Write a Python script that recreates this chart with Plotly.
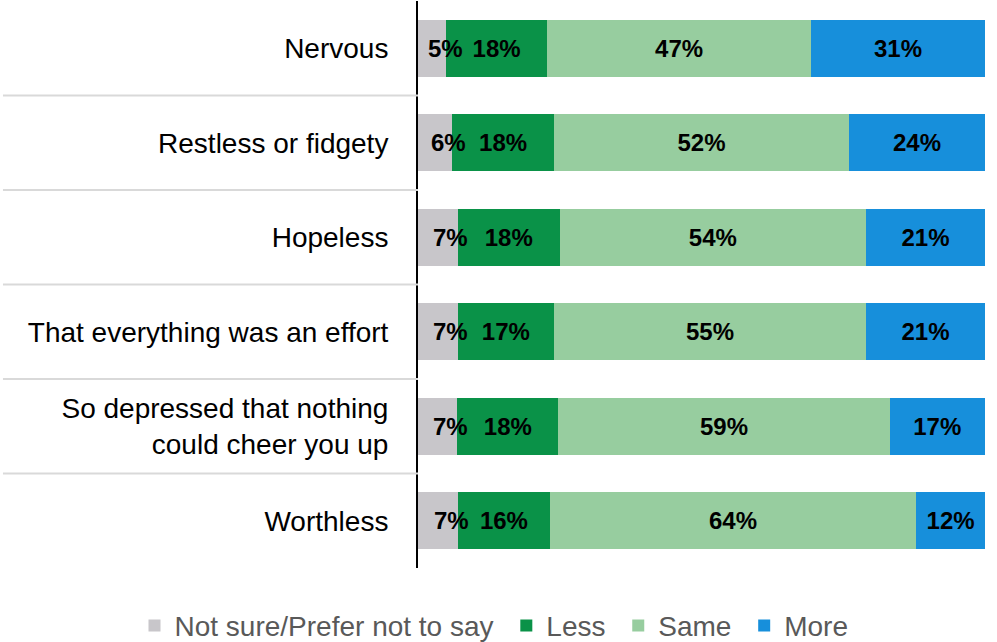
import plotly.graph_objects as go

# Survey items (top to bottom)
categories = [
    "Nervous",
    "Restless or fidgety",
    "Hopeless",
    "That everything was an effort",
    "So depressed that nothing<br>could cheer you up",
    "Worthless",
]

# Share of respondents per answer (%)
not_sure = [5, 6, 7, 7, 7, 7]
less = [18, 18, 18, 17, 18, 16]
same = [47, 52, 54, 55, 59, 64]
more = [31, 24, 21, 21, 17, 12]

series = [
    ("Not sure/Prefer not to say", not_sure, "#c8c6ca"),
    ("Less", less, "#0a9248"),
    ("Same", same, "#97cd9f"),
    ("More", more, "#178fdb"),
]

FONT = "Liberation Sans, Arial, sans-serif"
GAP = "\u00a0"  # extra breathing room after each legend entry

fig = go.Figure()
for k, (name, vals, color) in enumerate(series):
    show_text = k > 0
    fig.add_trace(go.Bar(
        name=name + (GAP if k < len(series) - 1 else ""),
        y=categories,
        x=vals,
        orientation="h",
        marker=dict(color=color, line=dict(width=0)),
        text=[f"{v}%" for v in vals] if show_text else None,
        textposition="inside" if show_text else "none",
        insidetextanchor="middle",
        textangle=0,
        textfont=dict(family=FONT, size=24, color="black", weight="bold"),
        hoverinfo="skip",
    ))

# Labels for the narrow first segment sit above the neighbouring bars
annotations = []
for idx, cat in enumerate(categories):
    total = not_sure[idx] + less[idx] + same[idx] + more[idx]
    mid = not_sure[idx] / 2 * 100 / total
    annotations.append(dict(
        x=mid, y=cat, xref="x", yref="y", text=f"<b>{not_sure[idx]}%</b>",
        showarrow=False, xanchor="center", yanchor="middle", xshift=13,
        font=dict(family=FONT, size=24, color="black"),
    ))

# Light dividers between the category rows, to the left of the axis
shapes = []
for i in range(len(categories) - 1):
    shapes.append(dict(
        type="line", xref="paper", yref="y",
        x0=-0.732, x1=0, y0=i + 0.5, y1=i + 0.5,
        line=dict(color="#d9d9d9", width=2),
    ))

fig.update_layout(
    barmode="stack",
    barnorm="percent",
    bargap=0.4,
    width=997,
    height=642,
    margin=dict(l=418, r=12, t=1, b=74, autoexpand=False),
    paper_bgcolor="white",
    plot_bgcolor="white",
    font=dict(family=FONT, color="black"),
    uniformtext=dict(minsize=24, mode="show"),
    xaxis=dict(
        range=[0, 100], showgrid=False, zeroline=False,
        showticklabels=False, showline=False, fixedrange=True,
    ),
    yaxis=dict(
        autorange="reversed", showgrid=False, zeroline=False,
        showline=True, linecolor="black", linewidth=2,
        ticks="", ticklabelstandoff=22,
        tickfont=dict(family=FONT, size=28, color="black"),
    ),
    legend=dict(
        orientation="h", xref="paper", x=-0.5, xanchor="left",
        yref="paper", y=-0.102, yanchor="middle",
        font=dict(family=FONT, size=28, color="#595959"),
        traceorder="normal",
    ),
    shapes=shapes,
    annotations=annotations,
)

fig.write_html("out.html")
